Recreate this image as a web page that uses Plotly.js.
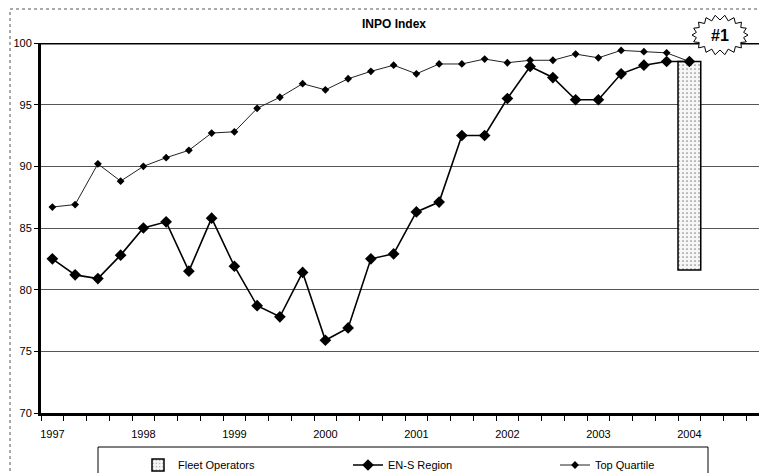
<!DOCTYPE html>
<html>
<head>
<meta charset="utf-8">
<script src="https://cdn.plot.ly/plotly-3.0.1.min.js"></script>
<style>html,body{margin:0;padding:0;background:#fff;overflow:hidden}#chart{width:759px;height:473px}</style>
</head>
<body>
<div id="chart"></div>
<script>
// ---- data ----
const quarters = ['1997 Q1','1997 Q2','1997 Q3','1997 Q4','1998 Q1','1998 Q2','1998 Q3','1998 Q4',
  '1999 Q1','1999 Q2','1999 Q3','1999 Q4','2000 Q1','2000 Q2','2000 Q3','2000 Q4',
  '2001 Q1','2001 Q2','2001 Q3','2001 Q4','2002 Q1','2002 Q2','2002 Q3','2002 Q4',
  '2003 Q1','2003 Q2','2003 Q3','2003 Q4','2004 Q1'];
const yearLabels = ['1997','1998','1999','2000','2001','2002','2003','2004'];
const ensRegion = [82.5,81.2,80.9,82.8,85.0,85.5,81.5,85.8,81.9,78.7,77.8,81.4,75.9,76.9,82.5,82.9,
  86.3,87.1,92.5,92.5,95.5,98.1,97.2,95.4,95.4,97.5,98.2,98.5,98.5];
const topQuartile = [86.7,86.9,90.2,88.8,90.0,90.7,91.3,92.7,92.8,94.7,95.6,96.7,96.2,97.1,97.7,98.2,
  97.5,98.3,98.3,98.7,98.4,98.6,98.6,99.1,98.8,99.4,99.3,99.2,98.5];
const fleetQuarter = ['2004 Q1'];
const fleetLow = [81.6];
const fleetHigh = [98.5];
const yTicks = [70,75,80,85,90,95,100];

// ---- build ----
const xIdx = quarters.map((q,i)=>i);
const fleetX = fleetQuarter.map(q=>quarters.indexOf(q));
const yearTickVals = yearLabels.map(y=>quarters.indexOf(y+' Q1'));

const W=759,H=473,L=41,T=43,B=60,R=0;
const pw=W-L-R, ph=H-T-B;
const px=x=>(x-L)/pw, py=y=>(H-B-y)/ph;

const traces = [
  {type:'bar', name:'Fleet Operators', legend:'legend', x:fleetX, y:fleetHigh.map((h,i)=>h-fleetLow[i]), base:fleetLow,
   width:1, hoverinfo:'skip',
   marker:{color:'#f4f4f4', line:{color:'#000',width:1.5},
     pattern:{shape:'.', fgcolor:'#888', bgcolor:'#f6f6f6', size:4, solidity:0.15}}},
  {type:'scatter', mode:'lines+markers', name:'EN-S Region', legend:'legend2', x:xIdx, y:ensRegion,
   line:{color:'#000',width:1.6}, marker:{symbol:'diamond',size:9,color:'#000'}},
  {type:'scatter', mode:'lines+markers', name:'Top Quartile', legend:'legend3', x:xIdx, y:topQuartile,
   line:{color:'#222',width:1}, marker:{symbol:'diamond',size:6,color:'#000'}}
];

// starburst path (decoration)
function starPath(n, rx, ry, irx, iry){
  let p='';
  for(let i=0;i<2*n;i++){
    const a=Math.PI*i/n;
    const o=i%2===0;
    const x=(o?rx:irx)*Math.cos(a), y=(o?ry:iry)*Math.sin(a);
    p+=(i===0?'M':'L')+x.toFixed(2)+','+y.toFixed(2);
  }
  return p+'Z';
}

const legBase = {orientation:'h', xref:'container', yref:'container', xanchor:'left',
  y:1-465/H, yanchor:'middle', bgcolor:'rgba(0,0,0,0)', borderwidth:0, font:{size:11}};

const layout = {
  width:W, height:H,
  margin:{l:L,r:R,t:T,b:B,pad:0,autoexpand:false},
  paper_bgcolor:'#fff', plot_bgcolor:'#fff',
  font:{family:'Liberation Sans, Arial, sans-serif', size:11, color:'#000'},
  title:{text:'<b>INPO Index</b>', font:{size:12,color:'#000'}, xref:'container', yref:'container',
         x:394/W, xanchor:'center', y:1-24/H, yanchor:'middle'},
  showlegend:true,
  legend: Object.assign({}, legBase, {x:138/W}),
  legend2: Object.assign({}, legBase, {x:348/W}),
  legend3: Object.assign({}, legBase, {x:555/W}),
  xaxis:{range:[-0.5,(W-R-L)/22.75-0.5], showgrid:false, zeroline:false,
         showline:true, linecolor:'#000', linewidth:2.5,
         tickmode:'array', tickvals:yearTickVals, ticktext:yearLabels, ticks:'',
         tickfont:{size:11}, ticklabelstandoff:9, fixedrange:true,
         minor:{tickmode:'linear', tick0:-0.5, dtick:1, ticks:'outside', ticklen:5, tickcolor:'#000', tickwidth:1, showgrid:false}},
  yaxis:{range:[70,100], tickmode:'array', tickvals:yTicks, ticks:'outside', ticklen:4, tickcolor:'#000',
         showgrid:true, gridcolor:'#555', gridwidth:1, zeroline:false,
         showline:true, linecolor:'#000', linewidth:3, tickfont:{size:11}, fixedrange:true},
  bargap:0,
  shapes:[
    {type:'rect', xref:'paper', yref:'paper', x0:px(10), x1:px(780), y0:py(500), y1:py(9),
     line:{color:'#555',width:1,dash:'dot'}, layer:'below'},
    {type:'line', xref:'paper', yref:'y', x0:0, x1:1, y0:100, y1:100, line:{color:'#000',width:3}, layer:'below'},
    {type:'rect', xref:'paper', yref:'paper', x0:px(98), x1:px(708), y0:py(495), y1:py(447),
     line:{color:'#000',width:1}, layer:'below'},
    {type:'path', xref:'paper', yref:'paper', xsizemode:'pixel', ysizemode:'pixel',
     xanchor:px(720), yanchor:py(35), path:starPath(18,28,20,24,15),
     fillcolor:'#fff', line:{color:'#000',width:1}, layer:'above'}
  ],
  annotations:[
    {xref:'paper', yref:'paper', x:px(720), y:py(35), text:'<b>#1</b>', showarrow:false,
     font:{size:16,color:'#000'}, xanchor:'center', yanchor:'middle'}
  ]
};

Plotly.newPlot('chart', traces, layout, {staticPlot:true, displayModeBar:false});
</script>
</body>
</html>
